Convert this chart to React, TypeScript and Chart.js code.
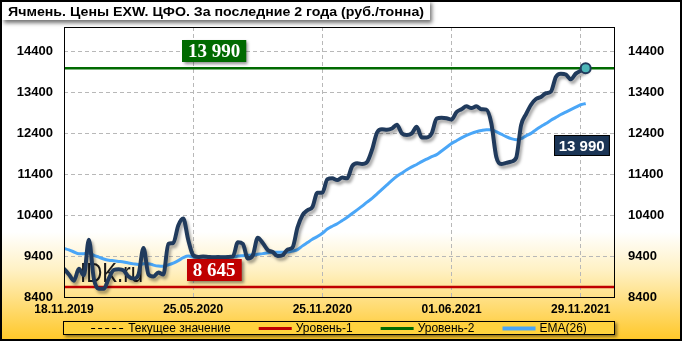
import React, { useEffect, useRef } from "react";
import { Chart, registerables } from "chart.js";

Chart.register(...registerables);

const TITLE = "Ячмень. Цены EXW. ЦФО. За последние 2 года (руб./тонна)";
const DATE_LABELS = ["18.11.2019", "25.05.2020", "25.11.2020", "01.06.2021", "29.11.2021"];
const DATE_TICK_INDEX = [0, 26, 52, 78, 104];
const Y_TICKS = [8400, 9400, 10400, 11400, 12400, 13400, 14400];
const Y_MIN = 8400;
const Y_MAX = 15000;
const X_MAX = 110.7;

const PRICE = [
  9090, 8950, 8800, 9090, 8930, 9800, 8850, 8600, 8600, 8850,
  9060, 9080, 9050, 8900, 8850, 8950, 9600, 8950, 8900, 9000,
  8950, 9700, 9720, 10150, 10320, 9800, 9420, 9380, 9390, 9380,
  9370, 9380, 9370, 9380, 9390, 9740, 9700, 9340, 9420, 9850,
  9720, 9550, 9500, 9400, 9420, 9560, 9610, 10100, 10400, 10520,
  10600, 10950, 10950, 11280, 11300, 11260, 11320, 11300, 11600, 11670,
  11650, 11700, 12000, 12420, 12500, 12490, 12520, 12610, 12400, 12360,
  12400, 12560, 12300, 12300, 12400, 12760, 12780, 12770, 12740, 12920,
  12990, 13060, 13020, 13060, 12990, 12980, 12650, 11830, 11650, 11680,
  11710, 11800, 12600, 12870, 13100, 13240, 13290, 13380, 13420, 13780,
  13860, 13840, 13720, 13860, 13930, 13990,
];

const EMA26 = [
  9590, 9550, 9500, 9460, 9460, 9475, 9420, 9375, 9330, 9300,
  9285, 9270, 9255, 9230, 9210, 9195, 9210, 9215, 9180, 9155,
  9150, 9185, 9230, 9290, 9360, 9400, 9380, 9375, 9375, 9375,
  9375, 9375, 9375, 9378, 9380, 9400, 9410, 9420, 9430, 9445,
  9460, 9480, 9495, 9495, 9495, 9500, 9525, 9560, 9650, 9730,
  9810, 9880, 9960, 10060, 10130, 10190, 10270, 10350, 10440, 10530,
  10620, 10720, 10810, 10920, 11030, 11140, 11250, 11350, 11430, 11510,
  11580, 11640, 11710, 11770, 11830, 11880, 11970, 12060, 12150, 12220,
  12290, 12350, 12400, 12440, 12470, 12490, 12490, 12440, 12380, 12320,
  12270, 12245, 12270, 12340, 12400, 12490, 12570, 12640, 12720, 12790,
  12860, 12920, 12980, 13040, 13100, 13130,
];

const CURRENT = 13990;
const LEVEL_1 = 8645;
const LEVEL_2 = 13990;
const LEGEND_LABELS = ["Текущее значение", "Уровень-1", "Уровень-2", "EMA(26)"];
const WATERMARK = "IDK.ru";

const COLORS = {
  price: "#203A5C",
  ema: "#4AA6F7",
  level1: "#C00000",
  level2: "#006A00",
  current: "#000000",
  grid: "#B8B8B8",
};

const fmt = (v: number) => String(v).replace(/\B(?=(\d{3})+(?!\d))/g, " ");

const SANS = "'Liberation Sans', Arial, sans-serif";
const SERIF = "'Liberation Serif', 'Times New Roman', serif";

function fitText(ctx: CanvasRenderingContext2D, text: string, x: number, y: number, target: number) {
  const w = ctx.measureText(text).width;
  const s = target / w;
  ctx.save();
  ctx.translate(x, y);
  ctx.scale(s, 1);
  ctx.fillText(text, 0, 0);
  ctx.restore();
}

function boxLabel(
  ctx: CanvasRenderingContext2D,
  text: string,
  cx: number,
  cy: number,
  font: string,
  bg: string,
  padX: number,
  h: number,
  border: string | null,
  shadow: boolean
) {
  ctx.save();
  ctx.font = font;
  const w = ctx.measureText(text).width + padX * 2;
  const x = Math.round(cx - w / 2);
  const y = Math.round(cy - h / 2);
  if (shadow) {
    ctx.shadowColor = "rgba(0,0,0,0.45)";
    ctx.shadowBlur = 3;
    ctx.shadowOffsetX = 2;
    ctx.shadowOffsetY = 2;
  }
  ctx.fillStyle = bg;
  ctx.fillRect(x, y, w, h);
  ctx.shadowColor = "transparent";
  if (border) {
    ctx.strokeStyle = border;
    ctx.lineWidth = 1;
    ctx.strokeRect(x + 0.5, y + 0.5, w - 1, h - 1);
  }
  ctx.fillStyle = "#FFFFFF";
  ctx.textAlign = "center";
  ctx.textBaseline = "middle";
  ctx.fillText(text, cx, cy + 1);
  ctx.restore();
}

const decorPlugin = {
  id: "decor",
  beforeDraw(chart: any) {
    const ctx = chart.ctx as CanvasRenderingContext2D;
    const W = chart.width;
    const H = chart.height;
    ctx.save();
    ctx.fillStyle = "#FFFFFF";
    ctx.fillRect(0, 0, W, H);
    const g = ctx.createLinearGradient(0, 232, 0, H);
    g.addColorStop(0, "#FFFFFF");
    g.addColorStop(0.35, "#FFF1C4");
    g.addColorStop(1, "#FFC726");
    ctx.fillStyle = g;
    ctx.fillRect(0, 232, W, H - 232);

    // title box
    ctx.shadowColor = "rgba(0,0,0,0.55)";
    ctx.shadowBlur = 4;
    ctx.shadowOffsetX = 2;
    ctx.shadowOffsetY = 3;
    ctx.fillStyle = "#FFFFFF";
    ctx.fillRect(2, 0, 428, 20);
    ctx.shadowColor = "transparent";
    ctx.fillStyle = "#000000";
    ctx.font = `bold 13px ${SANS}`;
    ctx.textBaseline = "alphabetic";
    ctx.textAlign = "left";
    fitText(ctx, TITLE, 8, 16, 416);
    ctx.restore();
  },
  beforeDatasetsDraw(chart: any) {
    const ctx = chart.ctx as CanvasRenderingContext2D;
    const { left, bottom } = chart.chartArea;
    ctx.save();
    ctx.fillStyle = "#1A1A1A";
    ctx.font = `27px ${SANS}`;
    ctx.textBaseline = "alphabetic";
    fitText(ctx, WATERMARK, left + 16, bottom - 15, 63);
    ctx.restore();
  },
  beforeDatasetDraw(chart: any, args: any) {
    if (args.meta && args.meta._dataset && args.meta._dataset.shadow) {
      const ctx = chart.ctx as CanvasRenderingContext2D;
      ctx.save();
      ctx.shadowColor = "rgba(0,0,0,0.35)";
      ctx.shadowBlur = 3;
      ctx.shadowOffsetX = 2;
      ctx.shadowOffsetY = 3;
    }
  },
  afterDatasetDraw(chart: any, args: any) {
    if (args.meta && args.meta._dataset && args.meta._dataset.shadow) {
      chart.ctx.restore();
    }
  },
  afterDatasetsDraw(chart: any) {
    const ctx = chart.ctx as CanvasRenderingContext2D;
    const { left, top, right, bottom } = chart.chartArea;
    const xs = chart.scales.x;
    const ys = chart.scales.y;
    ctx.save();
    ctx.strokeStyle = "#000000";
    ctx.lineWidth = 1;
    ctx.strokeRect(Math.round(left) + 0.5, Math.round(top) + 0.5, Math.round(right - left), Math.round(bottom - top));
    ctx.restore();

    const lx = xs.getPixelForValue(30.2);
    boxLabel(ctx, fmt(LEVEL_2), lx, ys.getPixelForValue(LEVEL_2) - 17, `bold 19px ${SERIF}`, COLORS.level2, 6, 22, null, true);
    boxLabel(ctx, fmt(LEVEL_1), lx, ys.getPixelForValue(LEVEL_1) - 17, `bold 19px ${SERIF}`, COLORS.level1, 6, 22, null, true);
    const last = PRICE.length - 1;
    boxLabel(ctx, fmt(CURRENT), xs.getPixelForValue(last) - 4, ys.getPixelForValue(12100), `bold 15px ${SANS}`, "#1B3556", 5, 21, "#000000", false);
  },
  afterDraw(chart: any) {
    const ctx = chart.ctx as CanvasRenderingContext2D;
    const { left, right } = chart.chartArea;
    const W = chart.width;
    const H = chart.height;
    ctx.save();
    // legend box
    const bx = Math.round(left) - 1;
    const by = 321;
    const bw = Math.round(right - left) + 2;
    const bh = 14;
    ctx.shadowColor = "rgba(0,0,0,0.45)";
    ctx.shadowBlur = 3;
    ctx.shadowOffsetX = 2;
    ctx.shadowOffsetY = 2;
    ctx.fillStyle = "#FFD23E";
    ctx.fillRect(bx, by, bw, bh);
    ctx.shadowColor = "transparent";
    ctx.strokeStyle = "#000000";
    ctx.lineWidth = 1;
    ctx.strokeRect(bx + 0.5, by + 0.5, bw - 1, bh - 1);

    ctx.font = `12px ${SANS}`;
    ctx.textBaseline = "middle";
    ctx.textAlign = "left";
    const sample = 33;
    const gap = 4;
    const itemGap = 28;
    const styles = [
      { color: COLORS.current, width: 1, dash: [4, 3] },
      { color: COLORS.level1, width: 3, dash: [] as number[] },
      { color: COLORS.level2, width: 3, dash: [] as number[] },
      { color: COLORS.ema, width: 4, dash: [] as number[] },
    ];
    const widths = LEGEND_LABELS.map((t) => sample + gap + ctx.measureText(t).width);
    const total = widths.reduce((a, b) => a + b, 0) + itemGap * (widths.length - 1);
    let x = bx + bw / 2 - total / 2;
    const cy = by + bh / 2;
    LEGEND_LABELS.forEach((t, i) => {
      const st = styles[i];
      ctx.beginPath();
      ctx.strokeStyle = st.color;
      ctx.lineWidth = st.width;
      ctx.setLineDash(st.dash);
      ctx.moveTo(x, cy + 0.5);
      ctx.lineTo(x + sample, cy + 0.5);
      ctx.stroke();
      ctx.setLineDash([]);
      ctx.fillStyle = "#000000";
      ctx.fillText(t, x + sample + gap, cy + 1);
      x += widths[i] + itemGap;
    });

    // outer border
    ctx.strokeStyle = "#000000";
    ctx.lineWidth = 2;
    ctx.strokeRect(1, 1, W - 2, H - 2);
    ctx.restore();
  },
};

export default function App() {
  const ref = useRef<HTMLCanvasElement>(null);
  useEffect(() => {
    document.body.style.margin = "0";
    const levelLine = (v: number) => [
      { x: 0, y: v },
      { x: X_MAX, y: v },
    ];
    const last = PRICE.length - 1;
    const chart = new Chart(ref.current as HTMLCanvasElement, {
      type: "line",
      data: {
        datasets: [
          {
            label: "current-point",
            data: [{ x: last, y: PRICE[last] }],
            showLine: false,
            pointRadius: 5,
            pointBackgroundColor: "#4DB6B8",
            pointBorderColor: COLORS.price,
            pointBorderWidth: 2,
          } as any,
          {
            label: "price",
            data: PRICE.map((v, i) => ({ x: i, y: v })),
            borderColor: COLORS.price,
            borderWidth: 4,
            pointRadius: 0,
            cubicInterpolationMode: "monotone",
            borderCapStyle: "round",
            borderJoinStyle: "round",
            shadow: true,
          } as any,
          {
            label: LEGEND_LABELS[3],
            data: EMA26.map((v, i) => ({ x: i, y: v })),
            borderColor: COLORS.ema,
            borderWidth: 3,
            pointRadius: 0,
            cubicInterpolationMode: "monotone",
          },
          {
            label: LEGEND_LABELS[2],
            data: levelLine(LEVEL_2),
            borderColor: COLORS.level2,
            borderWidth: 2.5,
            pointRadius: 0,
          },
          {
            label: LEGEND_LABELS[1],
            data: levelLine(LEVEL_1),
            borderColor: COLORS.level1,
            borderWidth: 2.5,
            pointRadius: 0,
          },
          {
            label: LEGEND_LABELS[0],
            data: levelLine(CURRENT),
            borderColor: COLORS.current,
            borderWidth: 1,
            borderDash: [4, 3],
            pointRadius: 0,
          },
        ],
      },
      options: {
        responsive: false,
        animation: false,
        events: [],
        layout: { padding: { top: 27, left: 0, right: 0, bottom: 0 } },
        plugins: { legend: { display: false }, tooltip: { enabled: false }, title: { display: false } },
        scales: {
          x: {
            type: "linear",
            min: 0,
            max: X_MAX,
            afterBuildTicks: (s: any) => {
              s.ticks = DATE_TICK_INDEX.map((v) => ({ value: v }));
            },
            afterFit: (s: any) => {
              s.height = 44;
            },
            ticks: {
              autoSkip: false,
              maxRotation: 0,
              padding: 5,
              color: "#000000",
              font: { family: SANS, size: 12, weight: "bold" },
              callback: (v: any) => {
                const k = DATE_TICK_INDEX.indexOf(Number(v));
                return k >= 0 ? DATE_LABELS[k] : "";
              },
            },
            grid: { color: COLORS.grid, lineWidth: 1, drawTicks: false },
            border: { display: false, dash: [4, 3] },
          },
          y: {
            type: "linear",
            position: "left",
            min: Y_MIN,
            max: Y_MAX,
            afterBuildTicks: (s: any) => {
              s.ticks = Y_TICKS.map((v) => ({ value: v }));
            },
            afterFit: (s: any) => {
              s.width = 64;
            },
            ticks: {
              padding: 11,
              color: "#000000",
              font: { family: SANS, size: 13, weight: "bold" },
              callback: (v: any) => String(v),
            },
            grid: { color: COLORS.grid, lineWidth: 1, drawTicks: false },
            border: { display: false, dash: [4, 3] },
          },
          y2: {
            type: "linear",
            position: "right",
            min: Y_MIN,
            max: Y_MAX,
            afterBuildTicks: (s: any) => {
              s.ticks = Y_TICKS.map((v) => ({ value: v }));
            },
            afterFit: (s: any) => {
              s.width = 68;
            },
            ticks: {
              padding: 14,
              color: "#000000",
              font: { family: SANS, size: 13, weight: "bold" },
              callback: (v: any) => String(v),
            },
            grid: { display: false, drawTicks: false },
            border: { display: false },
          },
        },
      } as any,
      plugins: [decorPlugin],
    });
    return () => chart.destroy();
  }, []);
  return (
    <div style={{ position: "fixed", left: 0, top: 0, width: 682, height: 341 }}>
      <canvas ref={ref} width={682} height={341} style={{ display: "block" }} />
    </div>
  );
}
